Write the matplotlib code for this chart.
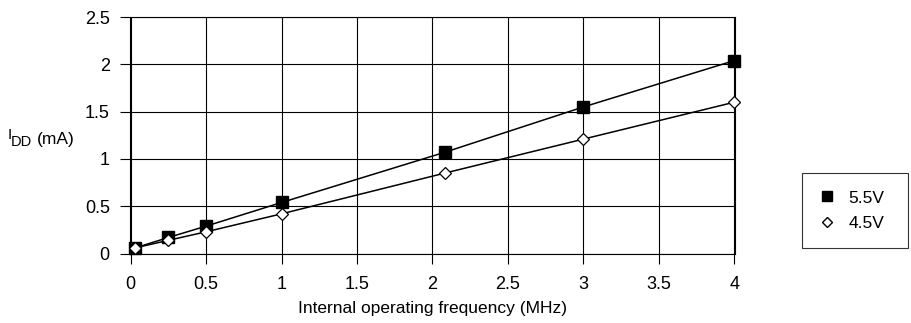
import matplotlib
matplotlib.use("Agg")
import matplotlib.pyplot as plt
from matplotlib.lines import Line2D

plt.rcParams['font.family'] = ['Liberation Sans', 'DejaVu Sans']

# frequency (MHz) and supply current (mA)
freq = [0.03, 0.25, 0.5, 1.0, 2.08, 3.0, 4.0]
idd_55 = [0.06, 0.17, 0.29, 0.54, 1.07, 1.55, 2.04]
idd_45 = [0.06, 0.14, 0.23, 0.42, 0.85, 1.21, 1.60]
labels = ['5.5V', '4.5V']
xticks = [0, 0.5, 1, 1.5, 2, 2.5, 3, 3.5, 4]
yticks = [0, 0.5, 1, 1.5, 2, 2.5]

W, H = 911, 323
fig = plt.figure(figsize=(W / 100, H / 100), dpi=100)
ax = fig.add_axes([0.1427, 0.2136, 0.6641, 0.7334])

ax.plot(freq, idd_55, color='black', lw=1.1, marker='s', ms=8,
        mfc='black', mec='black', zorder=3, clip_on=False)
ax.plot(freq, idd_45, color='black', lw=1.1, marker='D', ms=6,
        mfc='white', mec='black', mew=0.9, zorder=3, clip_on=False)

ax.set_xticks(xticks)
ax.set_yticks(yticks)
ax.set_xticklabels([f'{t:g}' for t in xticks])
ax.set_yticklabels([f'{t:g}' for t in yticks])
ax.grid(True, color='black', lw=0.8)
ax.tick_params(direction='out', length=7, width=0.8, labelsize=13)
ax.tick_params(axis='x', pad=8.5)
ax.tick_params(axis='y', pad=7.5)
for s in ax.spines.values():
    s.set_linewidth(0.8)
ax.set_xlim(-0.005, 4.005)
ax.set_ylim(-0.005, 2.5)

ax.set_xlabel('Internal operating frequency (MHz)', fontsize=12.5, labelpad=6)

# y label: I with DD subscript, placed in pixels
def px(x, y):
    return x / W, 1 - y / H
fig.text(*px(7.5, 139), 'I', fontsize=11, va='baseline', ha='left')
fig.text(*px(11, 146), 'DD', fontsize=10.5, va='baseline', ha='left')
fig.text(*px(36.5, 144), '(mA)', fontsize=12.5, va='baseline', ha='left')

handles = [
    Line2D([], [], ls='none', marker='s', ms=7, mfc='black', mec='black'),
    Line2D([], [], ls='none', marker='D', ms=5, mfc='white', mec='black'),
]
leg = fig.legend(handles, labels, loc='upper left',
                 bbox_to_anchor=(802 / W, 1 - 248 / H, 106 / W, 75 / H),
                 mode='expand', frameon=True, fancybox=False,
                 edgecolor='black', fontsize=12.5, handlelength=0.86,
                 borderpad=1.0, labelspacing=0.58, handletextpad=0.8,
                 borderaxespad=0)
leg.get_frame().set_linewidth(0.8)

fig.savefig('out.png', dpi=100)
